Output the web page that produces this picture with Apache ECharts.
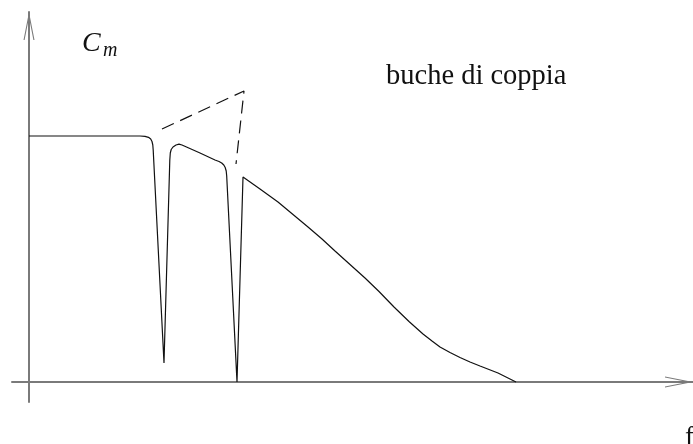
<!DOCTYPE html>
<html>
<head>
<meta charset="utf-8">
<script src="https://cdn.jsdelivr.net/npm/echarts@6/dist/echarts.min.js"></script>
<style>
  html, body { margin: 0; padding: 0; background: #fff; }
  #chart { width: 693px; height: 444px; }
</style>
</head>
<body>
<div id="chart"></div>
<script>
// Torque curve C_m versus frequency f, with two torque dips ("buche di coppia")
const torqueF = [0, 111, 116, 119.5, 121.7, 123, 123.8, 124.2, 135, 140.8, 141.3, 142.2, 144, 147, 150, 153,
  171, 186, 190, 192.7, 194.8, 196.2, 197.2, 197.7, 208, 214, 231, 249, 264, 279, 293, 306, 321, 336,
  350, 365, 380, 394, 403, 411, 421, 431, 441, 451, 469, 487];
const torqueC = [246, 246, 245.7, 244.7, 243, 240.5, 237, 232, 19, 222, 229, 232.5, 235, 237, 237.8, 237,
  229, 222, 220.5, 219, 217, 214.5, 211, 206, 0, 205, 193, 180, 167.5, 155, 143, 131, 117.5, 104,
  90.5, 75, 60.5, 48, 41, 35, 29.5, 24.5, 20, 16, 9, 0];

// Dashed envelope over the dips
const envelopeF = [133, 215, 207];
const envelopeC = [253, 291, 218];

const zip = (a, b) => a.map((v, i) => [v, b[i]]);

// Open arrowhead drawn as a thin chevron
const chevron = 'path://M0,28 L5.5,0 L11,28 L9.9,28 L5.5,5.5 L1.1,28 Z';

const axisCommon = {
  type: 'value',
  axisLine: {
    show: true,
    onZero: true,
    symbol: ['none', chevron],
    symbolSize: [11, 28],
    symbolOffset: [0, -14],
    lineStyle: { color: '#7a7a7a', width: 2 }
  },
  axisTick: { show: false },
  axisLabel: { show: false },
  splitLine: { show: false }
};

const chart = echarts.init(document.getElementById('chart'), null, { renderer: 'canvas' });
chart.setOption({
  animation: false,
  backgroundColor: '#ffffff',
  grid: { left: 12, right: 0, top: 12, bottom: 42, containLabel: false },
  xAxis: Object.assign({}, axisCommon, { min: -17, max: 664 }),
  yAxis: Object.assign({}, axisCommon, { min: -20, max: 370 }),
  series: [
    {
      type: 'line',
      data: zip(torqueF, torqueC),
      showSymbol: false,
      symbol: 'none',
      smooth: false,
      lineStyle: { color: '#111', width: 1.2 },
      z: 3
    },
    {
      type: 'line',
      data: zip(envelopeF, envelopeC),
      showSymbol: false,
      symbol: 'none',
      lineStyle: { color: '#111', width: 1.2, type: [13, 7] },
      z: 3
    }
  ],
  graphic: [
    { type: 'text', left: 82, top: 30, style: { text: 'C', font: 'italic 28px "Liberation Serif"', fill: '#111' } },
    { type: 'text', left: 103, top: 41, style: { text: 'm', font: 'italic 20px "Liberation Serif"', fill: '#111' } },
    { type: 'text', left: 386, top: 62, style: { text: 'buche di coppia', font: '28.5px "Liberation Serif"', fill: '#111' } },
    { type: 'text', left: 685, top: 424, style: { text: 'f', font: '27px "Liberation Serif"', fill: '#111' } }
  ]
});
</script>
</body>
</html>
